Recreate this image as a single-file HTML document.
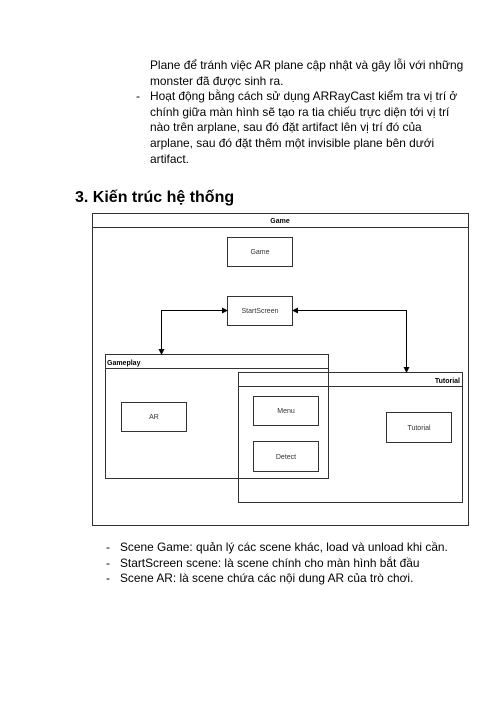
<!DOCTYPE html>
<html><head><style>
body{margin:0;width:497px;height:702px;background:#fff;position:relative;font-family:"Liberation Sans",sans-serif;color:#000;overflow:hidden}
.t{position:absolute;font-size:11.9px;white-space:nowrap;line-height:15.7px}
</style></head><body>
<div class="t" style="left:150px;top:58px">Plane để tránh việc AR plane cập nhật và gây lỗi với những<br>monster đã được sinh ra.</div>
<div class="t" style="left:136px;top:89px">-</div>
<div class="t" style="left:150px;top:89px">Hoạt động bằng cách sử dụng ARRayCast kiểm tra vị trí ở<br>chính giữa màn hình sẽ tạo ra tia chiếu trực diện tới vị trí<br>nào trên arplane, sau đó đặt artifact lên vị trí đó của<br>arplane, sau đó đặt thêm một invisible plane bên dưới<br>artifact.</div>
<div class="t" style="left:75px;top:188px;font-size:16px;font-weight:bold;line-height:20px">3. Kiến trúc hệ thống</div>
<svg style="position:absolute;left:0;top:0" width="497" height="702" font-family="Liberation Sans,sans-serif">
<defs><marker id="a" markerWidth="6" markerHeight="6" refX="5" refY="3" orient="auto-start-reverse"><path d="M0,0L6,3L0,6z" fill="#000"/></marker></defs>
<g fill="none" stroke="#333" stroke-width="1">
<rect x="92.5" y="213.5" width="376" height="312"/>
<line x1="92" y1="227.5" x2="468" y2="227.5"/>
<rect x="227.5" y="237.5" width="65" height="29"/>
<rect x="227.5" y="296.5" width="65" height="29"/>
<rect x="105.5" y="354.5" width="223" height="124"/>
<line x1="105" y1="368.5" x2="328" y2="368.5"/>
<rect x="238.5" y="372.5" width="224" height="130"/>
<line x1="238" y1="386.5" x2="462" y2="386.5"/>
<rect x="121.5" y="402.5" width="65" height="29"/>
<rect x="253.5" y="396.5" width="65" height="29"/>
<rect x="253.5" y="441.5" width="65" height="30"/>
<rect x="386.5" y="412.5" width="65" height="30"/>
<polyline points="227,310.5 161.5,310.5 161.5,354" stroke="#000" marker-end="url(#a)" marker-start="url(#a)"/>
<polyline points="293,310.5 406.5,310.5 406.5,372" stroke="#000" marker-end="url(#a)" marker-start="url(#a)"/>
</g>
<g font-size="7" fill="#333" text-anchor="middle">
<text x="280" y="223" font-weight="bold" fill="#000">Game</text>
<text x="260" y="254">Game</text>
<text x="260" y="313">StartScreen</text>
<text x="154" y="419">AR</text>
<text x="286" y="413">Menu</text>
<text x="286" y="459">Detect</text>
<text x="419" y="430">Tutorial</text>
<text x="107" y="365" text-anchor="start" font-weight="bold" fill="#000">Gameplay</text>
<text x="460" y="383" text-anchor="end" font-weight="bold" fill="#000">Tutorial</text>
</g>
</svg>
<div class="t" style="left:106px;top:540px">-<br>-<br>-</div>
<div class="t" style="left:120px;top:540px">Scene Game: quản lý các scene khác, load và unload khi cần.<br>StartScreen scene: là scene chính cho màn hình bắt đầu<br>Scene AR: là scene chứa các nội dung AR của trò chơi.</div>
</body></html>
